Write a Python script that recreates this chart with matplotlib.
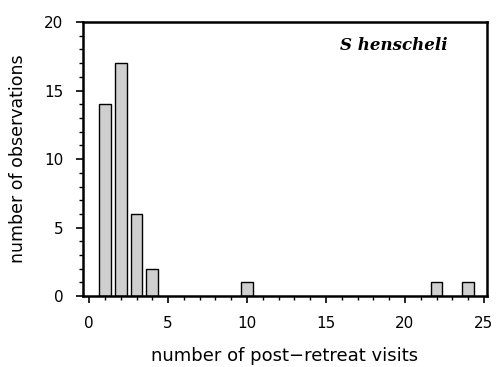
import matplotlib
matplotlib.use("Agg")
import matplotlib.pyplot as plt
from matplotlib.ticker import MultipleLocator

visits = [1, 2, 3, 4, 10, 22, 24]
counts = [14, 17, 6, 2, 1, 1, 1]
xticks = [0, 5, 10, 15, 20, 25]
yticks = [0, 5, 10, 15, 20]

plt.rcParams['font.family'] = ['DejaVu Sans']
plt.rcParams['hatch.color'] = '#9a9a9a'
plt.rcParams['hatch.linewidth'] = 0.6
fig = plt.figure(figsize=(4.96, 3.67), dpi=100)
ax = fig.add_axes([0.167, 0.193, 0.815, 0.747])

ax.bar(visits, counts, width=0.75, color='#cfcfcf', edgecolor='black',
       linewidth=1.0, zorder=2)

ax.set_xlim(-0.4, 25.2)
ax.set_ylim(0, 20)
ax.set_xticks(xticks)
ax.set_yticks(yticks)
ax.xaxis.set_minor_locator(MultipleLocator(1))
ax.yaxis.set_minor_locator(MultipleLocator(1))
ax.tick_params(which='major', direction='out', length=5, width=1.2, labelsize=11)
ax.tick_params(which='minor', direction='out', length=3, width=1.0)
ax.tick_params(axis='x', pad=9)
ax.tick_params(axis='y', pad=9)
for s in ax.spines.values():
    s.set_linewidth(1.8)

ax.set_xlabel('number of post\u2212retreat visits', fontsize=13, labelpad=12)
ax.set_ylabel('number of observations', fontsize=12.5, labelpad=12)
ax.text(0.77, 0.915, 'S henscheli', transform=ax.transAxes, ha='center', va='center',
        fontsize=12, style='italic', weight='bold', family='DejaVu Serif')

fig.savefig('out.png', dpi=100)
